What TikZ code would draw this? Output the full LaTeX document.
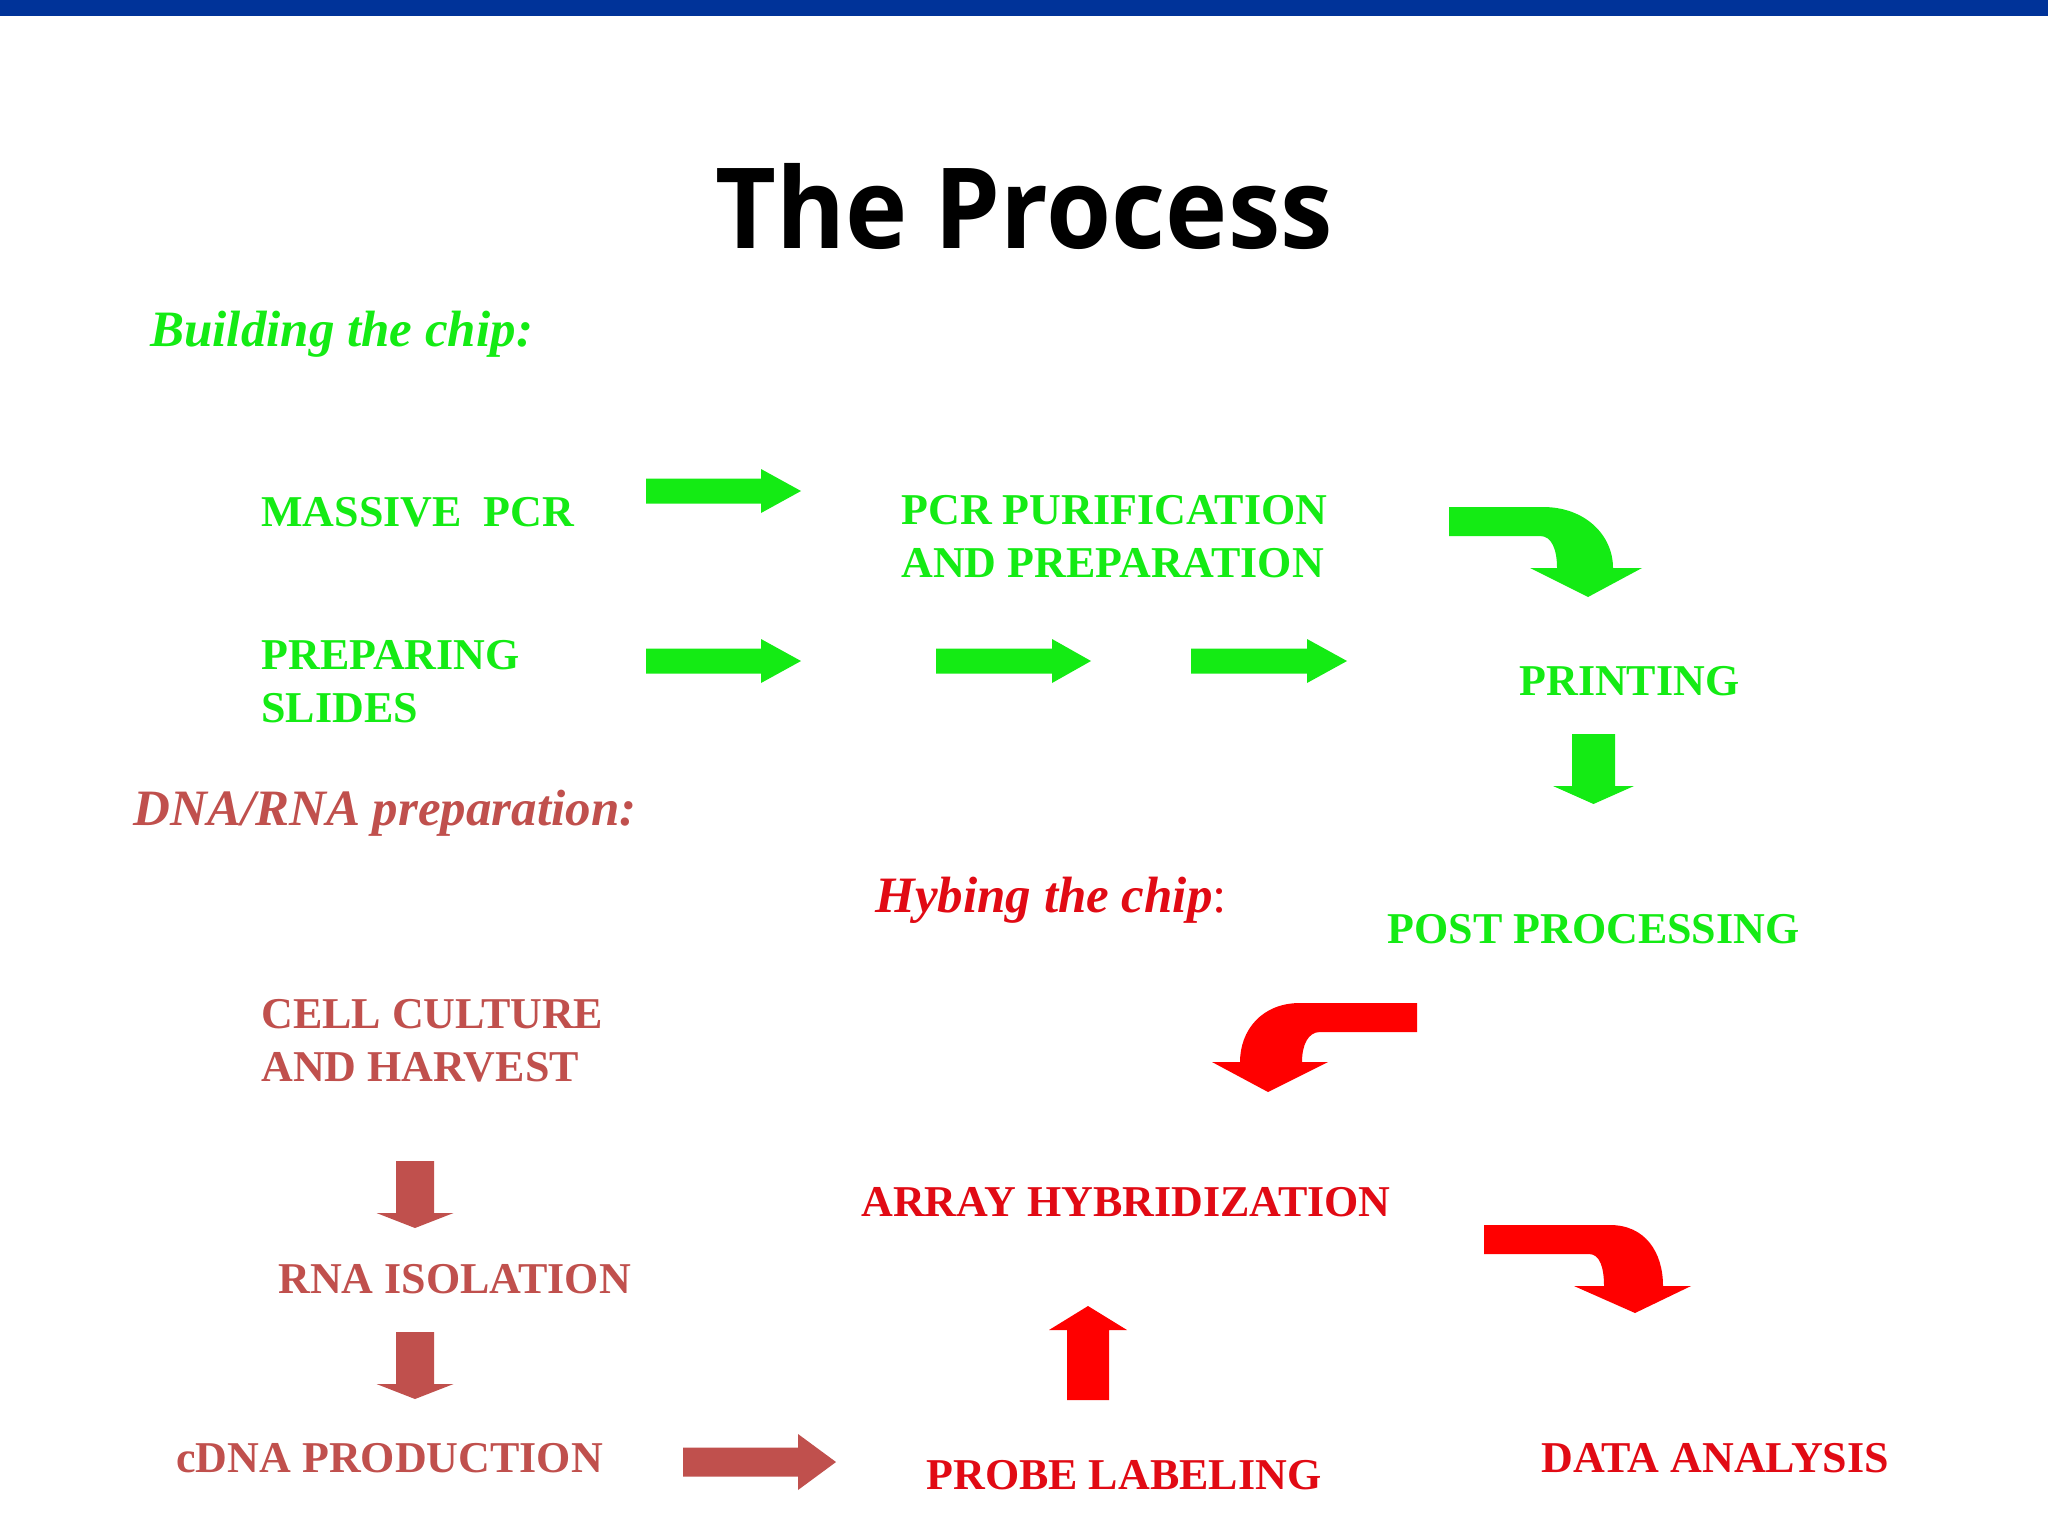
\documentclass[tikz,border=0pt]{standalone}
\usepackage{fontspec}
\setmainfont{Liberation Serif}
\newfontfamily\titlefont[FakeStretch=0.94]{Open Sans}
\definecolor{gr}{RGB}{20,235,20}
\definecolor{dred}{RGB}{192,80,77}
\definecolor{brred}{RGB}{225,10,20}
\definecolor{arrred}{RGB}{255,0,0}
\definecolor{barblue}{RGB}{0,51,153}
% color, x0, xb, x1, cy, h, H
\newcommand\blkright[7]{\fill[#1] (#2,{#5-#6}) -- (#3,{#5-#6}) -- (#3,{#5-#7}) -- (#4,#5) -- (#3,{#5+#7}) -- (#3,{#5+#6}) -- (#2,{#5+#6}) -- cycle;}
% color, y0, yb, y1, cx, h, H
\newcommand\blkvert[7]{\fill[#1] ({#5-#6},#2) -- ({#5-#6},#3) -- ({#5-#7},#3) -- (#5,#4) -- ({#5+#7},#3) -- ({#5+#6},#3) -- ({#5+#6},#2) -- cycle;}
\begin{document}
\begin{tikzpicture}[x=0.5pt,y=-0.5pt,
  lbl/.style={anchor=base west, inner sep=0pt, font=\bfseries\fontsize{22}{26.5}\selectfont, align=left},
  hd/.style={anchor=base west, inner sep=0pt, font=\bfseries\itshape\fontsize{25.5}{30}\selectfont}]
\useasboundingbox (0,0) rectangle (2048,1536);
\fill[white] (0,0) rectangle (2048,1536);
\fill[barblue] (0,0) rectangle (2048,16);
% title
\node[anchor=base, inner sep=0pt, font=\titlefont\bfseries\fontsize{56}{60}\selectfont] (title) at (1024,248) {The Process};
% headings
\node[hd, text=gr] (build) at (150,346) {Building the chip:};
\node[hd, text=dred] (dna) at (133,825) {DNA/RNA preparation:};
\node[hd, text=brred] (hyb) at (875,912) {Hybing the chip{\upshape\mdseries:}};
% green labels (multi-line nodes: base = last line)
\node[lbl, text=gr] (massive) at (261,526) {MASSIVE\ \ PCR};
\node[lbl, text=gr] (prep) at (261,722) {PREPARING\\SLIDES};
\node[lbl, text=gr] (pcr) at (901,577) {PCR PURIFICATION\\AND PREPARATION};
\node[lbl, text=gr] (print) at (1519,695) {PRINTING};
\node[lbl, text=gr] (post) at (1387,943) {POST PROCESSING};
% dusty red labels
\node[lbl, text=dred] (cell) at (261,1081) {CELL CULTURE\\AND HARVEST};
\node[lbl, text=dred] (rna) at (278,1293) {RNA ISOLATION};
\node[lbl, text=dred] (cdna) at (176,1472) {cDNA PRODUCTION};
% red labels
\node[lbl, text=brred] (array) at (861,1216) {ARRAY HYBRIDIZATION};
\node[lbl, text=brred] (probe) at (926,1489) {PROBE LABELING};
\node[lbl, text=brred] (data) at (1541,1472) {DATA ANALYSIS};
% green straight arrows
\blkright{gr}{646}{761}{801}{491}{12.5}{22}
\blkright{gr}{646}{761}{801}{661}{12.5}{22}
\blkright{gr}{936}{1052}{1091}{661}{12.5}{22}
\blkright{gr}{1191}{1307}{1347}{661}{12.5}{22}
% green curved arrow
\fill[gr] (1449,507) -- (1543,507) .. controls (1585,507) and (1613,535) .. (1613,568) -- (1642,568) -- (1588,597) -- (1530,568) -- (1557,568) .. controls (1557,550) and (1552,536) .. (1540,536) -- (1449,536) -- cycle;
% green down arrow
\blkvert{gr}{734}{786}{804}{1593.5}{21.5}{40.5}
% red curved arrows
\fill[arrred] (1417,1003) -- (1300,1003) .. controls (1262,1003) and (1240,1030) .. (1240,1062) -- (1212,1062) -- (1268,1092) -- (1328,1062) -- (1302,1062) .. controls (1302,1045) and (1308,1032) .. (1320,1032) -- (1417,1032) -- cycle;
\fill[arrred] (1484,1225) -- (1610,1225) .. controls (1645,1225) and (1663,1252) .. (1663,1286) -- (1691,1286) -- (1635,1313) -- (1574,1286) -- (1604,1286) .. controls (1604,1268) and (1600,1254) .. (1589,1254) -- (1484,1254) -- cycle;
% red up arrow
\blkvert{arrred}{1400}{1330}{1306}{1088}{21}{39}
% dusty red arrows
\blkvert{dred}{1161}{1213}{1228}{415}{19}{38.5}
\blkvert{dred}{1332}{1384}{1399}{415}{19}{38.5}
\blkright{dred}{683}{798}{836}{1462}{14.5}{28}
\end{tikzpicture}
\end{document}
